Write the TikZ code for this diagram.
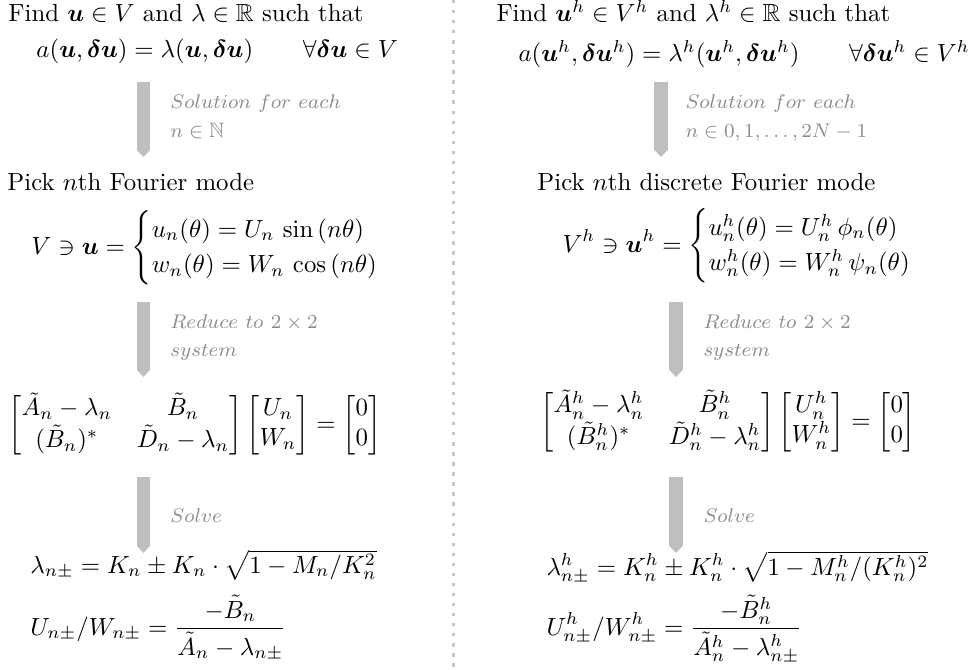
\documentclass[tikz,border=0pt]{standalone}
\usepackage{amsmath,amssymb,bm}
\usetikzlibrary{arrows.meta}
\begin{document}
\begin{tikzpicture}[x=0.403pt,y=-0.403pt,
  txt/.style={inner sep=0pt, anchor=base west},
  lbl/.style={inner sep=0pt, anchor=base west, text=black!45, font=\fontsize{8.4}{10}\selectfont},
  flow/.style={draw=black!25, line width=5.3pt, -{Triangle[width=5.3pt,length=2.9pt]}},
  sepline/.style={draw=black!22, line width=1.35pt, dash pattern=on 1.35pt off 2.7pt}]
\useasboundingbox (0,0) rectangle (976,670);
% separator
\coordinate (st) at (453.5,0);
\coordinate (sb) at (453.5,670);
\draw[sepline] (st) -- (sb);
% ---------- left column ----------
\node[txt] (f1) at (8,22) {Find $\bm{u}\in V$ and $\lambda\in\mathbb{R}$ such that};
\node[txt] (e1) at (36,58) {$a(\bm{u},\bm{\delta u}) = \lambda(\bm{u},\bm{\delta u}) \qquad \forall \bm{\delta u}\in V$};
\coordinate (a1s) at (143.5,82);
\coordinate (a1e) at (143.5,157);
\draw[flow] (a1s) -- (a1e);
\node[lbl] (l1a) at (170,109) {$Solution\ for\ each$};
\node[lbl] (l1b) at (170,138) {$n\in\mathbb{N}$};
\node[txt] (p1) at (7,191) {Pick $n$th Fourier mode};
\node[txt] (c1) at (31,254) {$\displaystyle V\ni\bm{u} = \begin{cases} u_n(\theta) = U_n\,\sin{(n\theta)}\\ w_n(\theta) = W_n\,\cos{(n\theta)}\end{cases}$};
\coordinate (a2s) at (143.5,302);
\coordinate (a2e) at (143.5,377);
\draw[flow] (a2s) -- (a2e);
\node[lbl] (l2a) at (170,328) {$Reduce\ to\ 2\times 2$};
\node[lbl] (l2b) at (170,357) {$system$};
\node[txt] (m1) at (8,431) {$\displaystyle \begin{bmatrix}\tilde{A}_n-\lambda_n & \tilde{B}_n\\ (\tilde{B}_n)^* & \tilde{D}_n-\lambda_n\end{bmatrix}\begin{bmatrix}U_n\\ W_n\end{bmatrix} = \begin{bmatrix}0\\ 0\end{bmatrix}$};
\coordinate (a3s) at (143.5,477);
\coordinate (a3e) at (143.5,553);
\draw[flow] (a3s) -- (a3e);
\node[lbl] (l3) at (170,522) {$Solve$};
\node[txt] (s1) at (30,573) {$\lambda_{n\pm} = K_n \pm K_n\cdot\sqrt{1-M_n/K_n^2}$};
\node[txt] (r1) at (30,635) {$\displaystyle U_{n\pm}/W_{n\pm} = \frac{-\tilde{B}_n}{\tilde{A}_n-\lambda_{n\pm}}$};
% ---------- right column ----------
\node[txt] (f2) at (496,22) {Find $\bm{u}^h\in V^h$ and $\lambda^h\in\mathbb{R}$ such that};
\node[txt] (e2) at (518,62) {$a(\bm{u}^h,\bm{\delta u}^h) = \lambda^h(\bm{u}^h,\bm{\delta u}^h) \qquad \forall \bm{\delta u}^h\in V^h$};
\coordinate (b1s) at (661,82);
\coordinate (b1e) at (661,157);
\draw[flow] (b1s) -- (b1e);
\node[lbl] (k1a) at (685,109) {$Solution\ for\ each$};
\node[lbl] (k1b) at (685,138) {$n\in 0,1,\ldots,2N-1$};
\node[txt] (p2) at (537,191) {Pick $n$th discrete Fourier mode};
\node[txt] (c2) at (562,252) {$\displaystyle V^h\ni\bm{u}^h = \begin{cases} u^h_n(\theta) = U^h_n\,\phi_n(\theta)\\ w^h_n(\theta) = W^h_n\,\psi_n(\theta)\end{cases}$};
\coordinate (b2s) at (676,302);
\coordinate (b2e) at (676,377);
\draw[flow] (b2s) -- (b2e);
\node[lbl] (k2a) at (703,328) {$Reduce\ to\ 2\times 2$};
\node[lbl] (k2b) at (703,357) {$system$};
\node[txt] (m2) at (540,428) {$\displaystyle \begin{bmatrix}\tilde{A}^h_n-\lambda^h_n & \tilde{B}^h_n\\ (\tilde{B}^h_n)^* & \tilde{D}^h_n-\lambda^h_n\end{bmatrix}\begin{bmatrix}U^h_n\\ W^h_n\end{bmatrix} = \begin{bmatrix}0\\ 0\end{bmatrix}$};
\coordinate (b3s) at (676,477);
\coordinate (b3e) at (676,553);
\draw[flow] (b3s) -- (b3e);
\node[lbl] (k3) at (703,522) {$Solve$};
\node[txt] (s2) at (546,575) {$\lambda^h_{n\pm} = K^h_n \pm K^h_n\cdot\sqrt{1-M^h_n/(K^h_n)^2}$};
\node[txt] (r2) at (546,635) {$\displaystyle U^h_{n\pm}/W^h_{n\pm} = \frac{-\tilde{B}^h_n}{\tilde{A}^h_n-\lambda^h_{n\pm}}$};
\end{tikzpicture}
\end{document}
